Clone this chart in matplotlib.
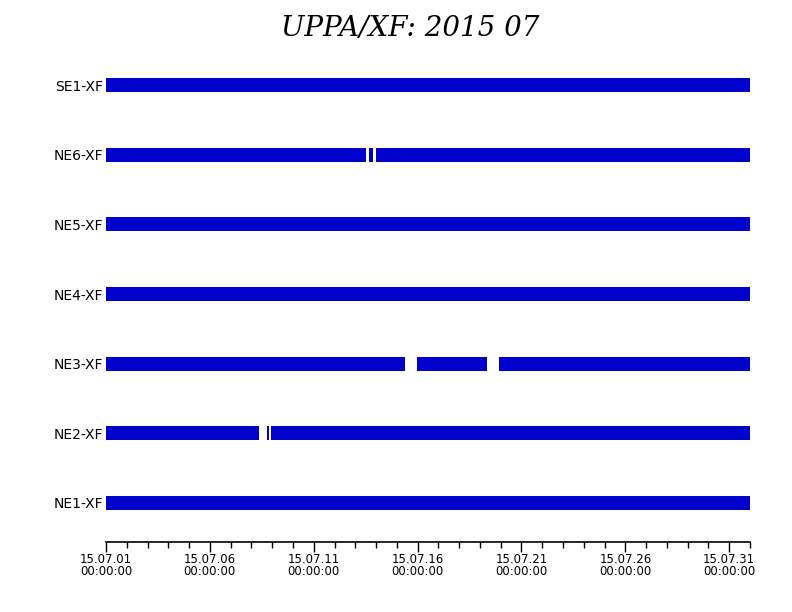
import datetime as dt
import matplotlib
matplotlib.use('Agg')
import matplotlib.pyplot as plt
import matplotlib.dates as mdates

# Stations, bottom to top
stations = ['NE1-XF', 'NE2-XF', 'NE3-XF', 'NE4-XF', 'NE5-XF', 'NE6-XF', 'SE1-XF']

# Data coverage segments (start, end) per station
segments = {
    'NE1-XF': [('2015-07-01 00:00', '2015-08-01 00:00')],
    'NE2-XF': [('2015-07-01 00:00', '2015-07-08 09:00'),
               ('2015-07-08 18:30', '2015-07-08 20:40'),
               ('2015-07-08 23:00', '2015-08-01 00:00')],
    'NE3-XF': [('2015-07-01 00:00', '2015-07-15 09:00'),
               ('2015-07-15 23:00', '2015-07-19 08:40'),
               ('2015-07-19 22:00', '2015-08-01 00:00')],
    'NE4-XF': [('2015-07-01 00:00', '2015-08-01 00:00')],
    'NE5-XF': [('2015-07-01 00:00', '2015-08-01 00:00')],
    'NE6-XF': [('2015-07-01 00:00', '2015-07-13 12:00'),
               ('2015-07-13 16:00', '2015-07-13 21:00'),
               ('2015-07-13 23:30', '2015-08-01 00:00')],
    'SE1-XF': [('2015-07-01 00:00', '2015-08-01 00:00')],
}

BAR_COLOR = '#0000cc'
BAR_HEIGHT = 0.2


def to_num(s):
    return mdates.date2num(dt.datetime.strptime(s, '%Y-%m-%d %H:%M'))


fig = plt.figure(figsize=(7.92, 6.12), dpi=100)
ax = fig.add_axes([106 / 792, 1 - 542 / 612, (750 - 106) / 792, (542 - 46) / 612])

for i, name in enumerate(stations):
    spans = [(to_num(a), to_num(b) - to_num(a)) for a, b in segments[name]]
    ax.broken_barh(spans, (i - BAR_HEIGHT / 2, BAR_HEIGHT), facecolors=BAR_COLOR)

ax.set_xlim(to_num('2015-07-01 00:00'), to_num('2015-08-01 00:00'))
ax.set_ylim(-0.56, len(stations) - 1 + 0.56)

ax.set_yticks(range(len(stations)))
ax.set_yticklabels(stations, fontsize=10)
ax.tick_params(axis='y', length=0, pad=2)

major = [to_num('2015-07-%02d 00:00' % d) for d in range(1, 32, 5)]
ax.set_xticks(major)
ax.set_xticklabels([mdates.num2date(m).strftime('%y.%m.%d\n%H:%M:%S') for m in major],
                   fontsize=8.5, linespacing=0.85)
ax.xaxis.set_minor_locator(mdates.DayLocator())
ax.tick_params(axis='x', which='major', length=7, width=1, direction='out', pad=1)
ax.tick_params(axis='x', which='minor', length=4, width=1, direction='out')

for side in ['left', 'right', 'top']:
    ax.spines[side].set_visible(False)
ax.spines['bottom'].set_linewidth(1.2)

fig.text(410 / 792, 1 - 28 / 612, 'UPPA/XF: 2015 07', ha='center', va='center',
         fontsize=20, family='DejaVu Serif', style='italic', fontweight='light')

fig.savefig('out.png', dpi=100)
